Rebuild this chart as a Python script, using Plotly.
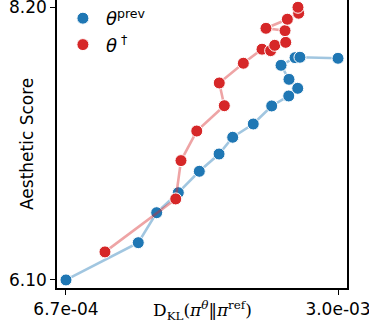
import plotly.graph_objects as go

# theta^prev series (in path order)
prev_kl = [6.70e-4, 1.289e-3, 1.447e-3, 1.632e-3, 1.812e-3, 1.981e-3, 2.098e-3, 2.274e-3,
           2.432e-3, 2.578e-3, 2.655e-3, 2.580e-3, 2.512e-3, 2.632e-3, 2.674e-3, 3.0e-3]
prev_score = [6.10, 6.387, 6.618, 6.772, 6.937, 7.070, 7.199, 7.301,
              7.440, 7.517, 7.576, 7.645, 7.753, 7.812, 7.815, 7.807]

# theta^dagger series (in path order)
dag_kl = [1.004e-3, 1.610e-3, 1.655e-3, 1.790e-3, 2.026e-3, 1.983e-3, 2.189e-3, 2.349e-3,
          2.423e-3, 2.458e-3, 2.552e-3, 2.546e-3, 2.383e-3, 2.566e-3, 2.663e-3, 2.657e-3]
dag_score = [6.316, 6.724, 7.019, 7.247, 7.442, 7.617, 7.769, 7.877,
             7.866, 7.907, 7.930, 8.020, 8.038, 8.108, 8.154, 8.20]

x_ticks = [6.7e-4, 3.0e-3]
x_ticktext = ["6.7e-04", "3.0e-03"]
y_ticks = [6.10, 8.20]
y_ticktext = ["6.10", "8.20"]

BLUE = "#1f77b4"
RED = "#d62728"
FONT = "DejaVu Sans"

fig = go.Figure()

def add_series(x, y, color, line_rgba, name):
    fig.add_trace(go.Scatter(
        x=x, y=y, mode="lines", line=dict(color=line_rgba, width=2.6),
        showlegend=False, hoverinfo="skip"))
    fig.add_trace(go.Scatter(
        x=x, y=y, mode="markers",
        marker=dict(color=color, size=12, line=dict(color="white", width=1)),
        name=name, showlegend=True))

add_series(prev_kl, prev_score, BLUE, "rgba(31,119,180,0.42)", "<i>θ</i><sup>prev</sup>")
add_series(dag_kl, dag_score, RED, "rgba(214,39,40,0.42)", "<i>θ</i><sup> †</sup>")

L, R, T, B = 57, 22, 0, 36
plot_w = 369 - L - R
plot_h = 324 - T - B

fig.update_layout(
    width=369, height=324,
    margin=dict(l=L, r=R, t=T, b=B, autoexpand=False),
    plot_bgcolor="white", paper_bgcolor="white",
    font=dict(family=FONT, size=17, color="black"),
    showlegend=True,
    legend=dict(x=0.01, y=1.0, xanchor="left", yanchor="top",
                bgcolor="rgba(0,0,0,0)", font=dict(size=18, family=FONT),
                itemwidth=36, tracegroupgap=0),
    xaxis=dict(range=[5.93e-4, 3.077e-3], tickvals=x_ticks, ticktext=x_ticktext,
               showgrid=False, zeroline=False, showline=True, mirror=True, automargin=False,
               ticklabeloverflow="allow",
               linecolor="black", linewidth=1.5, ticks="outside", ticklen=5,
               tickwidth=1.3, tickcolor="black", tickfont=dict(size=17, family=FONT)),
    yaxis=dict(range=[6.038, 8.256], tickvals=y_ticks, ticktext=y_ticktext,
               showgrid=False, zeroline=False, showline=True, mirror=True, automargin=False,
               ticklabeloverflow="allow",
               linecolor="black", linewidth=1.5, ticks="outside", ticklen=5,
               tickwidth=1.3, tickcolor="black", tickfont=dict(size=17, family=FONT)),
    annotations=[
        dict(text="Aesthetic Score", x=(27 - L) / plot_w, y=0.5, xref="paper", yref="paper",
             showarrow=False, textangle=-90, font=dict(size=17, family=FONT),
             xanchor="center", yanchor="middle"),
        dict(text="D<sub>KL</sub>(<i>π</i><sup><i>θ</i></sup>‖<i>π</i><sup>ref</sup>)",
             x=0.5, y=-(310 - (324 - B)) / plot_h, xref="paper", yref="paper", showarrow=False,
             font=dict(size=17, family="DejaVu Serif"), xanchor="center", yanchor="middle"),
    ],
)

fig.write_html("out.html", config={"displayModeBar": False},
               post_script="document.body.style.margin='0';document.body.style.overflow='hidden';")
